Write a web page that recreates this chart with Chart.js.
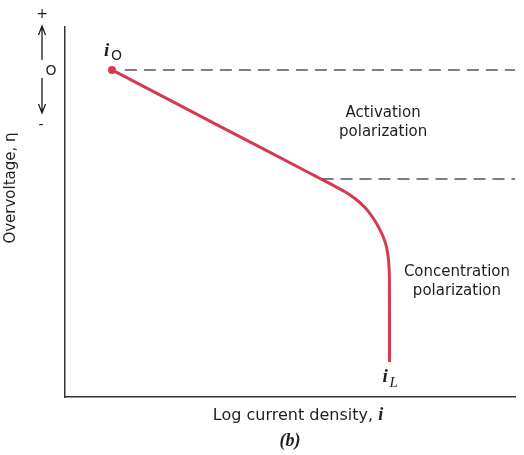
<!DOCTYPE html>
<html><head><meta charset="utf-8">
<script src="https://cdn.jsdelivr.net/npm/chart.js@4"></script>
<style>html,body{margin:0;padding:0;background:#fff}canvas{display:block}</style>
</head><body>
<canvas id="c" width="524" height="455"></canvas>
<script>
// Polarization curve (log current density vs overvoltage, arbitrary units)
const curveX = [1.044, 3.444, 5.222, 5.556, 5.778, 6.000, 6.222, 6.444, 6.667, 6.851, 7.000, 7.111, 7.171, 7.200, 7.209, 7.211];
const curveY = [0.000, -1.524, -2.651, -2.865, -3.005, -3.146, -3.292, -3.476, -3.719, -4.008, -4.324, -4.641, -4.954, -5.316, -5.676, -7.892];
// Dashed reference levels
const upperDashX = [1.33, 10];
const upperDashY = [0, 0];
const lowerDashX = [5.7, 10];
const lowerDashY = [-2.95, -2.95];
// Region labels
const regionLines = [["Activation", "polarization"], ["Concentration", "polarization"]];
const regionX = [7.07, 8.71];
const regionY = [-1.16, -5.46];
const xTitle = "Log current density, ";
const yTitle = "Overvoltage, \u03B7";
const caption = "(b)";

const red = '#d63a50';
const pts = (xs, ys) => xs.map((x, i) => ({x, y: ys[i]}));

const textPlugin = {
  id: 'texts',
  afterDraw(chart) {
    const ctx = chart.ctx, ca = chart.chartArea;
    const sx = chart.scales.x, sy = chart.scales.y;
    ctx.save();
    ctx.fillStyle = '#1e1e1e';
    ctx.strokeStyle = '#1e1e1e';
    ctx.textAlign = 'center';
    ctx.textBaseline = 'middle';
    ctx.font = "15px 'DejaVu Sans'";
    regionLines.forEach((lines, k) => {
      const px = sx.getPixelForValue(regionX[k]);
      const py = sy.getPixelForValue(regionY[k]);
      lines.forEach((t, j) => ctx.fillText(t, px, py + j * 19));
    });
    // i0 label
    const p0x = sx.getPixelForValue(curveX[0]);
    const p0y = sy.getPixelForValue(curveY[0]);
    ctx.textBaseline = 'alphabetic';
    ctx.textAlign = 'left';
    ctx.font = "italic bold 19px 'Liberation Serif'";
    ctx.fillText('i', p0x - 8, p0y - 14);
    ctx.font = "14px 'DejaVu Sans'";
    ctx.fillText('O', p0x - 1, p0y - 10);
    // iL label
    const n = curveX.length - 1;
    const pLx = sx.getPixelForValue(curveX[n]);
    const pLy = sy.getPixelForValue(curveY[n]);
    ctx.font = "italic bold 19px 'Liberation Serif'";
    ctx.fillText('i', pLx - 7, pLy + 20);
    ctx.font = "italic 15px 'Liberation Serif'";
    ctx.fillText('L', pLx, pLy + 25);
    // x title
    ctx.font = "16px 'DejaVu Sans'";
    const w1 = ctx.measureText(xTitle).width;
    ctx.font = "italic bold 18px 'Liberation Serif'";
    const w2 = ctx.measureText('i').width;
    const cx = (ca.left + ca.right) / 2 + 8;
    let x0 = cx - (w1 + w2) / 2;
    ctx.font = "16px 'DejaVu Sans'";
    ctx.fillText(xTitle, x0, ca.bottom + 23);
    ctx.font = "italic bold 18px 'Liberation Serif'";
    ctx.fillText('i', x0 + w1, ca.bottom + 23);
    ctx.textAlign = 'center';
    ctx.font = "italic bold 18px 'Liberation Serif'";
    ctx.fillText(caption, cx - 8, ca.bottom + 49);
    // y title
    ctx.save();
    ctx.translate(ca.left - 54, (ca.top + ca.bottom) / 2 - 24);
    ctx.rotate(-Math.PI / 2);
    ctx.font = "15px 'DejaVu Sans'";
    ctx.textBaseline = 'middle';
    ctx.fillText(yTitle, 0, 0);
    ctx.restore();
    // +/O/- with arrows
    const ax = ca.left - 23;
    const zy = sy.getPixelForValue(0);
    ctx.font = "14px 'DejaVu Sans'";
    ctx.textBaseline = 'middle';
    ctx.fillText('+', ax, zy - 56);
    ctx.fillText('O', ax + 9, zy + 1);
    ctx.fillText('-', ax - 1, zy + 55);
    ctx.lineWidth = 1.3;
    ctx.beginPath();
    ctx.moveTo(ax, zy - 10); ctx.lineTo(ax, zy - 44);
    ctx.moveTo(ax - 3.5, zy - 35); ctx.lineTo(ax, zy - 44); ctx.lineTo(ax + 3.5, zy - 35);
    ctx.moveTo(ax, zy + 8); ctx.lineTo(ax, zy + 43);
    ctx.moveTo(ax - 3.5, zy + 34); ctx.lineTo(ax, zy + 43); ctx.lineTo(ax + 3.5, zy + 34);
    ctx.stroke();
    ctx.restore();
  }
};

new Chart(document.getElementById('c'), {
  type: 'line',
  data: {
    datasets: [
      { data: pts(upperDashX, upperDashY), borderColor: '#555', borderWidth: 1.5, borderDash: [12, 7], pointRadius: 0, tension: 0 },
      { data: pts(lowerDashX, lowerDashY), borderColor: '#555', borderWidth: 1.5, borderDash: [12, 7], pointRadius: 0, tension: 0 },
      { data: pts(curveX, curveY), borderColor: red, backgroundColor: red, borderWidth: 3,
        pointRadius: curveX.map((_, i) => i === 0 ? 4 : 0), pointBackgroundColor: red, pointBorderWidth: 0,
        tension: 0.4, borderCapStyle: 'butt', borderJoinStyle: 'round' }
    ]
  },
  options: {
    responsive: false,
    animation: false,
    devicePixelRatio: 1,
    layout: { padding: { left: 65, right: 9, top: 27, bottom: 58 } },
    plugins: { legend: { display: false }, tooltip: { enabled: false } },
    scales: {
      x: { type: 'linear', min: 0, max: 10, grid: { display: false }, ticks: { display: false },
           border: { display: true, color: '#333', width: 1.5 }, afterFit: s => { s.height = 0; } },
      y: { type: 'linear', min: -8.84, max: 1.16, grid: { display: false }, ticks: { display: false },
           border: { display: true, color: '#333', width: 1.5 }, afterFit: s => { s.width = 0; } }
    }
  },
  plugins: [textPlugin]
});
</script>
</body></html>
